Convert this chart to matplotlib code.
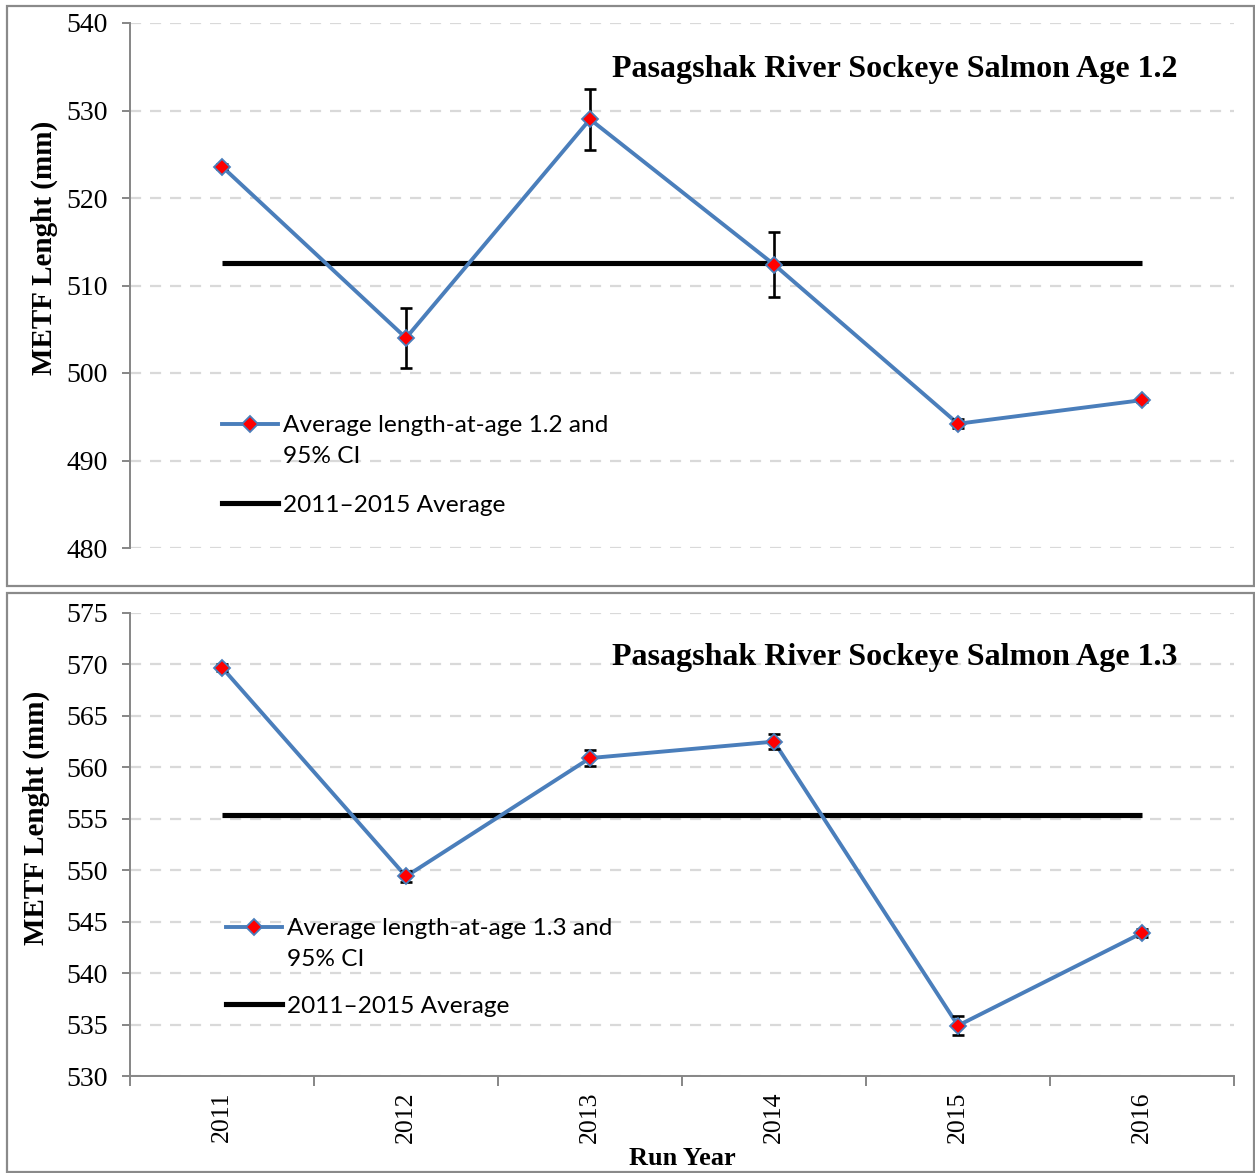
import matplotlib
matplotlib.use("Agg")
import matplotlib.pyplot as plt
from matplotlib.lines import Line2D
from matplotlib.patches import Rectangle
import numpy as np

# Run years shared by both panels
years = ["2011", "2012", "2013", "2014", "2015", "2016"]

# Age 1.2: mean METF length (mm) and 95% CI half-width
age12_mean = [523.6, 504.0, 529.0, 512.4, 494.2, 496.9]
age12_ci = [0.3, 3.4, 3.5, 3.7, 0.5, 0.2]
age12_avg = 512.6

# Age 1.3: mean METF length (mm) and 95% CI half-width
age13_mean = [569.7, 549.4, 560.9, 562.5, 534.9, 543.9]
age13_ci = [0.3, 0.5, 0.8, 0.7, 0.9, 0.4]
age13_avg = 555.4

age12_ticks = [480, 490, 500, 510, 520, 530, 540]
age13_ticks = [530, 535, 540, 545, 550, 555, 560, 565, 570, 575]

SERIF = "Liberation Serif"
SANS = "Lato"
BLUE = "#4a7ebb"
GRID = "#d9d9d9"
SPINE = "#868686"

plt.rcParams["font.family"] = [SERIF, "DejaVu Serif"]

W, H = 1255, 1173
fig = plt.figure(figsize=(W / 100, H / 100), dpi=100)

# Panel frames
for (y0, y1) in [(6, 586), (593, 1172)]:
    fig.patches.append(Rectangle((7 / W, 1 - y1 / H), (1254 - 7) / W, (y1 - y0) / H,
                                 transform=fig.transFigure, fill=False,
                                 edgecolor="#8a8a8a", linewidth=1.6, zorder=0))

ax_top = fig.add_axes([130 / W, 1 - 548 / H, (1234 - 130) / W, (548 - 23) / H])
ax_bot = fig.add_axes([130 / W, 1 - 1076 / H, (1234 - 130) / W, (1076 - 613) / H])

x = np.arange(len(years))


def draw_panel(ax, mean, ci, avg, ticks, age, title_y, leg_x, leg_y1, leg_y2, ylab_pos):
    ax.set_xlim(-0.5, len(years) - 0.5)
    ax.set_ylim(ticks[0], ticks[-1])
    ax.set_yticks(ticks)
    ax.yaxis.grid(True, color=GRID, linestyle=(0, (5, 4)), linewidth=1.6, zorder=0)
    ax.set_axisbelow(True)
    for s in ("top", "right"):
        ax.spines[s].set_visible(False)
    ax.spines["left"].set_color(SPINE)
    ax.spines["left"].set_linewidth(1.4)
    ax.spines["bottom"].set_color(SPINE)
    ax.spines["bottom"].set_linewidth(1.4)
    ax.tick_params(axis="y", length=6, width=1.4, color=SPINE, pad=10, labelsize=20)

    # 2011-2015 reference line
    ax.plot(x, [avg] * len(x), color="black", linewidth=3.7,
            solid_capstyle="butt", zorder=2)
    # series line, CI bars and markers
    ax.plot(x, mean, color=BLUE, linewidth=2.8, zorder=3)
    ax.errorbar(x, mean, yerr=ci, fmt="none", ecolor="black", elinewidth=1.9,
                capsize=4.5, capthick=1.9, zorder=4)
    ax.plot(x, mean, linestyle="none", marker="D", markersize=8,
            markerfacecolor="red", markeredgecolor=BLUE, markeredgewidth=1.3, zorder=5)

    ax.text(0.949, title_y, f"Pasagshak River Sockeye Salmon Age {age}",
            transform=ax.transAxes, ha="right", va="center",
            fontweight="bold", fontsize=23)

    ax.set_ylabel("METF Lenght (mm)", fontweight="bold", fontsize=21)
    ax.yaxis.set_label_coords(*ylab_pos)

    series_h = Line2D([], [], color=BLUE, linewidth=2.8, marker="D", markersize=8,
                      markerfacecolor="red", markeredgecolor=BLUE, markeredgewidth=1.3)
    blank_h = Line2D([], [], color="none")
    avg_h = Line2D([], [], color="black", linewidth=3.7)
    leg_kw = dict(frameon=False, prop={"family": SANS, "size": 17.6}, handlelength=2.3,
                  handletextpad=0.2, borderpad=0, borderaxespad=0, loc="center left")
    leg1 = ax.legend([series_h, blank_h], [f"Average length-at-age {age} and", "95% CI"],
                     bbox_to_anchor=(leg_x, leg_y1), labelspacing=0.38, **leg_kw)
    ax.add_artist(leg1)
    ax.legend([avg_h], ["2011\u20132015 Average"], bbox_to_anchor=(leg_x, leg_y2), **leg_kw)


draw_panel(ax_top, age12_mean, age12_ci, age12_avg, age12_ticks, "1.2",
           title_y=(548 - 69) / 525, leg_x=(222 - 130) / 1104,
           leg_y1=(548 - 441) / 525, leg_y2=(548 - 505) / 525,
           ylab_pos=((58 - 130) / 1104, (548 - 248) / 525))
draw_panel(ax_bot, age13_mean, age13_ci, age13_avg, age13_ticks, "1.3",
           title_y=(1076 - 657) / 463, leg_x=(226 - 130) / 1104,
           leg_y1=(1076 - 944) / 463, leg_y2=(1076 - 1006) / 463,
           ylab_pos=((50 - 130) / 1104, (1076 - 818) / 463))

# Top panel: no category axis
ax_top.spines["bottom"].set_visible(False)
ax_top.tick_params(axis="x", which="both", bottom=False, labelbottom=False)

# Bottom panel: category labels with ticks between categories
ax_bot.set_xticks(x)
ax_bot.set_xticklabels(years, rotation=90)
ax_bot.set_xticks(np.arange(len(years) + 1) - 0.5, minor=True)
ax_bot.tick_params(axis="x", which="major", length=0, pad=11, labelsize=18.5)
ax_bot.tick_params(axis="x", which="minor", length=7, width=1.4, color=SPINE)
ax_bot.set_xlabel("Run Year", fontweight="bold", fontsize=19, labelpad=3)

fig.savefig("out.png", dpi=100)
